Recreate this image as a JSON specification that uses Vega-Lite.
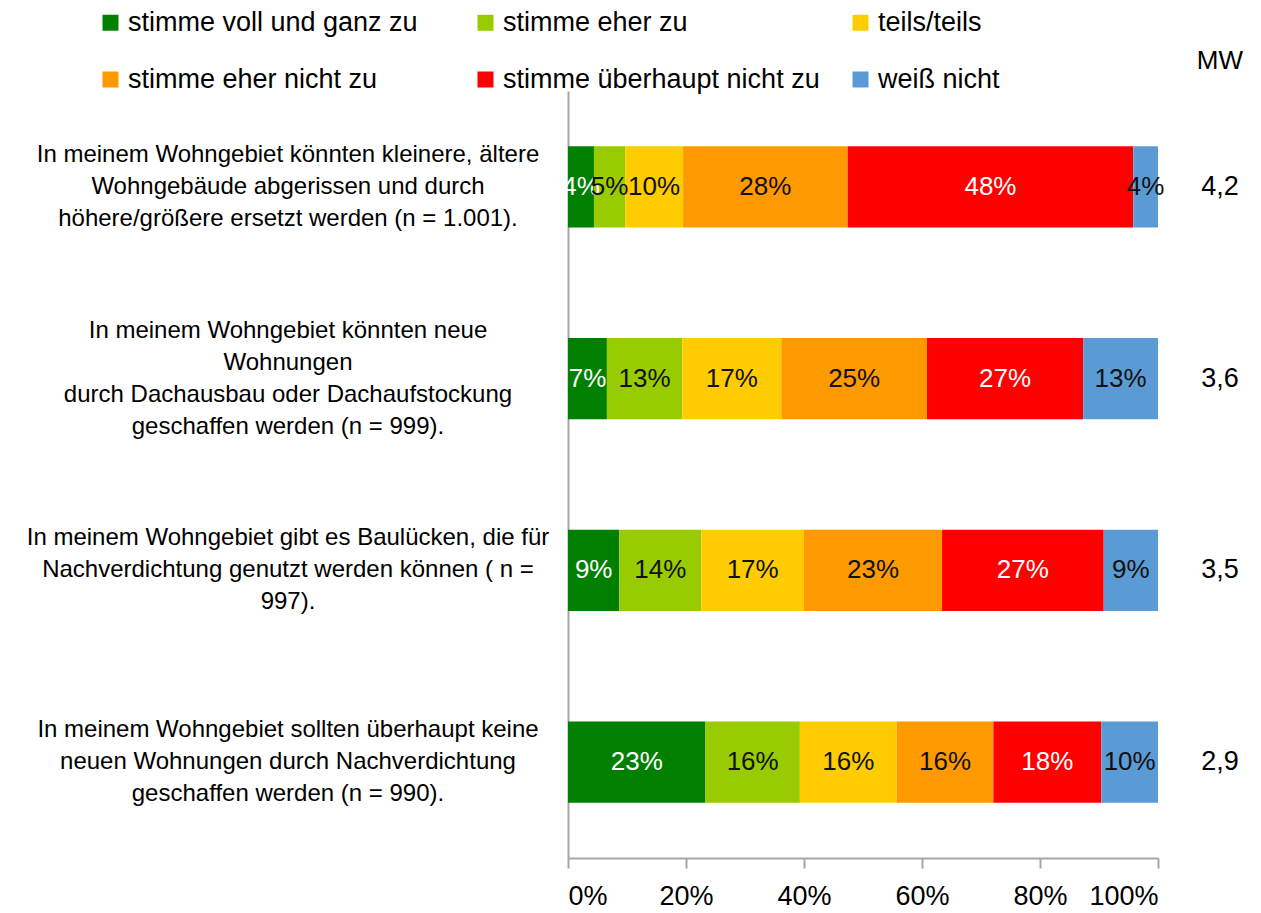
{
  "$schema": "https://vega.github.io/schema/vega-lite/v6.json",
  "width": 590,
  "height": 767,
  "autosize": {"type": "none"},
  "padding": {"left": 568, "top": 91, "right": 103, "bottom": 55},
  "background": "white",
  "config": {"font": "Liberation Sans", "view": {"stroke": null}},
  "title": {"text": "MW", "anchor": "end", "frame": "group", "dx": 85, "offset": -65, "fontSize": 26, "fontWeight": "normal", "color": "#000000"},
  "datasets": {
    "answers": [
      {"q": "In meinem Wohngebiet könnten kleinere, ältere|Wohngebäude abgerissen und durch|höhere/größere ersetzt werden (n = 1.001).", "cat": "stimme voll und ganz zu", "o": 1, "pct": 0.044},
      {"q": "In meinem Wohngebiet könnten kleinere, ältere|Wohngebäude abgerissen und durch|höhere/größere ersetzt werden (n = 1.001).", "cat": "stimme eher zu", "o": 2, "pct": 0.053},
      {"q": "In meinem Wohngebiet könnten kleinere, ältere|Wohngebäude abgerissen und durch|höhere/größere ersetzt werden (n = 1.001).", "cat": "teils/teils", "o": 3, "pct": 0.098},
      {"q": "In meinem Wohngebiet könnten kleinere, ältere|Wohngebäude abgerissen und durch|höhere/größere ersetzt werden (n = 1.001).", "cat": "stimme eher nicht zu", "o": 4, "pct": 0.279},
      {"q": "In meinem Wohngebiet könnten kleinere, ältere|Wohngebäude abgerissen und durch|höhere/größere ersetzt werden (n = 1.001).", "cat": "stimme überhaupt nicht zu", "o": 5, "pct": 0.484},
      {"q": "In meinem Wohngebiet könnten kleinere, ältere|Wohngebäude abgerissen und durch|höhere/größere ersetzt werden (n = 1.001).", "cat": "weiß nicht", "o": 6, "pct": 0.042},
      {"q": "In meinem Wohngebiet könnten neue|Wohnungen|durch Dachausbau oder Dachaufstockung|geschaffen werden (n = 999).", "cat": "stimme voll und ganz zu", "o": 1, "pct": 0.066},
      {"q": "In meinem Wohngebiet könnten neue|Wohnungen|durch Dachausbau oder Dachaufstockung|geschaffen werden (n = 999).", "cat": "stimme eher zu", "o": 2, "pct": 0.128},
      {"q": "In meinem Wohngebiet könnten neue|Wohnungen|durch Dachausbau oder Dachaufstockung|geschaffen werden (n = 999).", "cat": "teils/teils", "o": 3, "pct": 0.168},
      {"q": "In meinem Wohngebiet könnten neue|Wohnungen|durch Dachausbau oder Dachaufstockung|geschaffen werden (n = 999).", "cat": "stimme eher nicht zu", "o": 4, "pct": 0.247},
      {"q": "In meinem Wohngebiet könnten neue|Wohnungen|durch Dachausbau oder Dachaufstockung|geschaffen werden (n = 999).", "cat": "stimme überhaupt nicht zu", "o": 5, "pct": 0.265},
      {"q": "In meinem Wohngebiet könnten neue|Wohnungen|durch Dachausbau oder Dachaufstockung|geschaffen werden (n = 999).", "cat": "weiß nicht", "o": 6, "pct": 0.127},
      {"q": "In meinem Wohngebiet gibt es Baulücken, die für|Nachverdichtung genutzt werden können ( n =|997).", "cat": "stimme voll und ganz zu", "o": 1, "pct": 0.087},
      {"q": "In meinem Wohngebiet gibt es Baulücken, die für|Nachverdichtung genutzt werden können ( n =|997).", "cat": "stimme eher zu", "o": 2, "pct": 0.139},
      {"q": "In meinem Wohngebiet gibt es Baulücken, die für|Nachverdichtung genutzt werden können ( n =|997).", "cat": "teils/teils", "o": 3, "pct": 0.174},
      {"q": "In meinem Wohngebiet gibt es Baulücken, die für|Nachverdichtung genutzt werden können ( n =|997).", "cat": "stimme eher nicht zu", "o": 4, "pct": 0.234},
      {"q": "In meinem Wohngebiet gibt es Baulücken, die für|Nachverdichtung genutzt werden können ( n =|997).", "cat": "stimme überhaupt nicht zu", "o": 5, "pct": 0.274},
      {"q": "In meinem Wohngebiet gibt es Baulücken, die für|Nachverdichtung genutzt werden können ( n =|997).", "cat": "weiß nicht", "o": 6, "pct": 0.092},
      {"q": "In meinem Wohngebiet sollten überhaupt keine|neuen Wohnungen durch Nachverdichtung|geschaffen werden (n = 990).", "cat": "stimme voll und ganz zu", "o": 1, "pct": 0.233},
      {"q": "In meinem Wohngebiet sollten überhaupt keine|neuen Wohnungen durch Nachverdichtung|geschaffen werden (n = 990).", "cat": "stimme eher zu", "o": 2, "pct": 0.160},
      {"q": "In meinem Wohngebiet sollten überhaupt keine|neuen Wohnungen durch Nachverdichtung|geschaffen werden (n = 990).", "cat": "teils/teils", "o": 3, "pct": 0.164},
      {"q": "In meinem Wohngebiet sollten überhaupt keine|neuen Wohnungen durch Nachverdichtung|geschaffen werden (n = 990).", "cat": "stimme eher nicht zu", "o": 4, "pct": 0.164},
      {"q": "In meinem Wohngebiet sollten überhaupt keine|neuen Wohnungen durch Nachverdichtung|geschaffen werden (n = 990).", "cat": "stimme überhaupt nicht zu", "o": 5, "pct": 0.183},
      {"q": "In meinem Wohngebiet sollten überhaupt keine|neuen Wohnungen durch Nachverdichtung|geschaffen werden (n = 990).", "cat": "weiß nicht", "o": 6, "pct": 0.096}
    ],
    "mw": [
      {"q": "In meinem Wohngebiet könnten kleinere, ältere|Wohngebäude abgerissen und durch|höhere/größere ersetzt werden (n = 1.001).", "mw": "4,2"},
      {"q": "In meinem Wohngebiet könnten neue|Wohnungen|durch Dachausbau oder Dachaufstockung|geschaffen werden (n = 999).", "mw": "3,6"},
      {"q": "In meinem Wohngebiet gibt es Baulücken, die für|Nachverdichtung genutzt werden können ( n =|997).", "mw": "3,5"},
      {"q": "In meinem Wohngebiet sollten überhaupt keine|neuen Wohnungen durch Nachverdichtung|geschaffen werden (n = 990).", "mw": "2,9"}
    ]
  },
  "encoding": {
    "y": {
      "field": "q", "type": "nominal", "sort": null, "title": null,
      "scale": {"paddingInner": 0.577, "paddingOuter": 0.2885},
      "axis": {"labels": false, "ticks": false, "domainColor": "#A6A6A6", "domainWidth": 2}
    }
  },
  "layer": [
    {
      "data": {"name": "answers"},
      "mark": {"type": "bar"},
      "encoding": {
        "x": {"field": "pct", "type": "quantitative", "stack": "normalize", "title": null,
          "scale": {"domain": [0, 1]},
          "axis": {"format": ".0%", "values": [0, 0.2, 0.4, 0.6, 0.8, 1], "labelFontSize": 27, "labelColor": "#000000", "grid": false, "tickSize": 10, "tickColor": "#A6A6A6", "tickWidth": 2, "domainColor": "#A6A6A6", "domainWidth": 2, "labelPadding": 15}},
        "color": {"field": "cat", "type": "nominal",
          "scale": {"domain": ["stimme voll und ganz zu", "stimme eher zu", "teils/teils", "stimme eher nicht zu", "stimme überhaupt nicht zu", "weiß nicht"],
                    "range": ["#008000", "#99CC00", "#FFCC00", "#FF9900", "#FF0000", "#5B9BD5"]},
          "legend": {"title": null, "orient": "none", "direction": "horizontal", "legendX": -471, "legendY": -82, "columns": 3, "symbolType": "square", "symbolSize": 256, "labelFontSize": 27, "labelColor": "#000000", "columnPadding": 27, "rowPadding": 29, "gridAlign": "all", "labelOffset": 4, "symbolStrokeWidth": 0, "padding": 0, "labelLimit": 0}},
        "order": {"field": "o", "type": "quantitative"}
      }
    },
    {
      "data": {"name": "answers"},
      "mark": {"type": "text", "fontSize": 26},
      "encoding": {
        "x": {"field": "pct", "type": "quantitative", "stack": "normalize", "bandPosition": 0.5, "title": null},
        "detail": {"field": "cat"},
        "text": {"field": "pct", "type": "quantitative", "format": ".0%"},
        "color": {"condition": {"test": "datum.cat === 'stimme voll und ganz zu' || datum.cat === 'stimme überhaupt nicht zu'", "value": "#FFFFFF"}, "value": "#111111"},
        "order": {"field": "o", "type": "quantitative"}
      }
    },
    {
      "data": {"name": "mw"},
      "mark": {"type": "text", "fontSize": 27, "color": "#000000"},
      "encoding": {
        "x": {"datum": 1.105},
        "text": {"field": "mw"}
      }
    },
    {
      "data": {"name": "mw"},
      "mark": {"type": "text", "fontSize": 24, "lineBreak": "|", "lineHeight": 32, "align": "center", "baseline": "middle", "color": "#000000",
        "dy": {"expr": "-(length(split(datum.q, '|')) - 1) * 16"}},
      "encoding": {
        "x": {"datum": -0.4746},
        "text": {"field": "q"}
      }
    }
  ]
}
